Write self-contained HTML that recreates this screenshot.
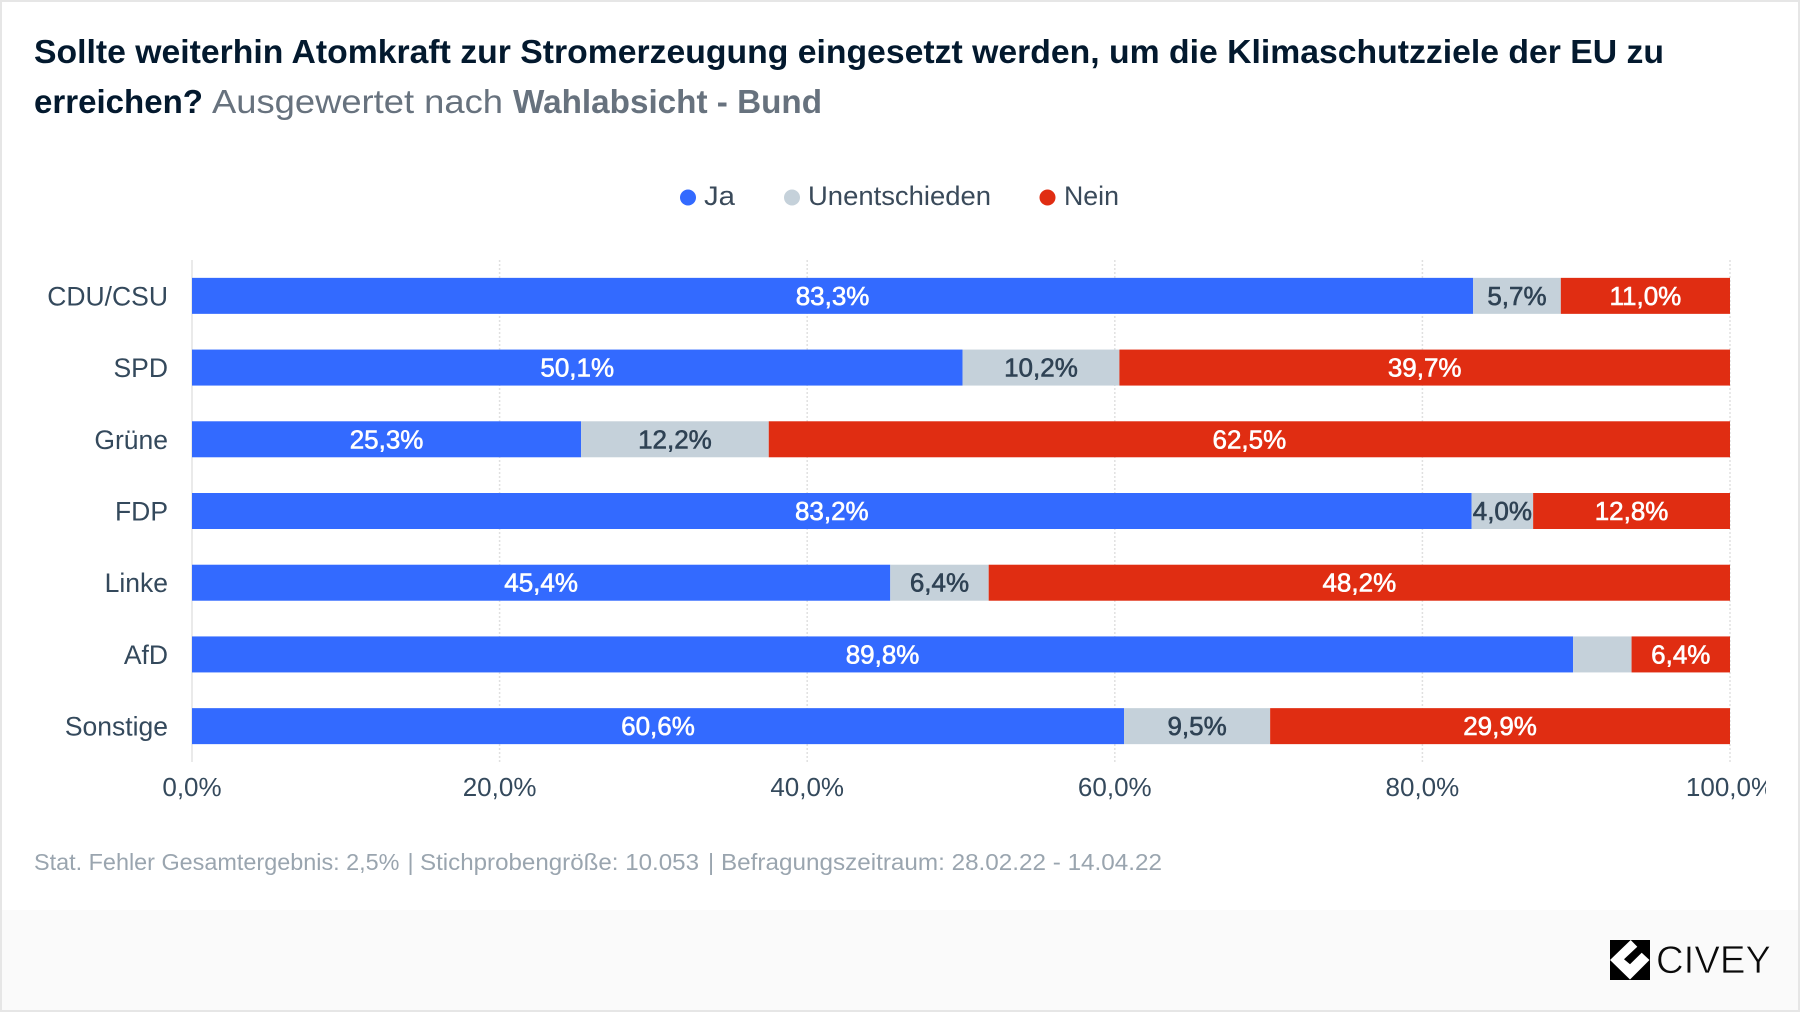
<!DOCTYPE html>
<html lang="de">
<head>
<meta charset="utf-8">
<title>Civey Umfrage Atomkraft</title>
<style>
html,body{margin:0;padding:0;background:#fff;}
body{width:1800px;height:1012px;overflow:hidden;}
svg{display:block;font-family:"Liberation Sans",sans-serif;}
</style>
</head>
<body>
<svg id="chart" xmlns="http://www.w3.org/2000/svg" width="1800" height="1012" viewBox="0 0 1800 1012">
  <defs>
    <clipPath id="chart-clip"><rect x="0" y="0" width="1766" height="1012"/></clipPath>
  </defs>
  <rect x="0" y="0" width="1800" height="1012" fill="#ffffff"/>
  <rect x="0" y="910" width="1800" height="102" fill="#fafafa"/>
  <rect x="0" y="0" width="1800" height="2" fill="#e6e6e6"/>
  <rect x="0" y="0" width="2" height="1012" fill="#e6e6e6"/>
  <rect x="1798" y="0" width="2" height="1012" fill="#e6e6e6"/>
  <rect x="0" y="1010" width="1800" height="2" fill="#e6e6e6"/>

  <text x="34" y="63" font-size="33" font-weight="700" fill="#03192e" textLength="1630" lengthAdjust="spacingAndGlyphs">Sollte weiterhin Atomkraft zur Stromerzeugung eingesetzt werden, um die Klimaschutzziele der EU zu</text>
  <text x="34" y="113" font-size="33" font-weight="700" fill="#03192e" textLength="169" lengthAdjust="spacingAndGlyphs">erreichen?</text>
  <text x="212" y="113" font-size="33" fill="#67727e" textLength="291" lengthAdjust="spacingAndGlyphs">Ausgewertet nach</text>
  <text x="513" y="113" font-size="33" font-weight="700" fill="#67727e" textLength="309" lengthAdjust="spacingAndGlyphs">Wahlabsicht - Bund</text>

  <g>
    <circle cx="688" cy="197.5" r="8" fill="#336aff"/>
    <text x="704" y="205" font-size="27" fill="#3a4a5a" textLength="31" lengthAdjust="spacingAndGlyphs">Ja</text>
    <circle cx="792" cy="197.5" r="8" fill="#c5d1da"/>
    <text x="808" y="205" font-size="27" fill="#3a4a5a" textLength="183" lengthAdjust="spacingAndGlyphs">Unentschieden</text>
    <circle cx="1047.5" cy="197.5" r="8" fill="#e02d12"/>
    <text x="1064" y="205" font-size="27" fill="#3a4a5a" textLength="55" lengthAdjust="spacingAndGlyphs">Nein</text>
  </g>

  <g id="plot" clip-path="url(#chart-clip)"></g>

  <g font-size="23.5" fill="#9aa5af">
    <text x="34" y="870" textLength="365.5" lengthAdjust="spacingAndGlyphs">Stat. Fehler Gesamtergebnis: 2,5%</text>
    <text x="407.5" y="870">|</text>
    <text x="420" y="870" textLength="279" lengthAdjust="spacingAndGlyphs">Stichprobengröße: 10.053</text>
    <text x="708" y="870">|</text>
    <text x="721" y="870" textLength="441" lengthAdjust="spacingAndGlyphs">Befragungszeitraum: 28.02.22 - 14.04.22</text>
  </g>

  <g>
    <rect x="1610" y="940" width="40" height="40" fill="#000000"/>
    <polygon points="1630.7,940 1610,960 1630,979.5 1649.5,960 1641.7,952.7 1630,964.3 1624,959.3 1637.3,946.7" fill="#ffffff"/>
    <text x="1656" y="973" font-size="39" fill="#0a0a0a" stroke="#fafafa" stroke-width="0.7" textLength="115" lengthAdjust="spacingAndGlyphs">CIVEY</text>
  </g>
</svg>
<script>
const categories = ["CDU/CSU", "SPD", "Grüne", "FDP", "Linke", "AfD", "Sonstige"];
const seriesJa = [83.3, 50.1, 25.3, 83.2, 45.4, 89.8, 60.6];
const seriesUnentschieden = [5.7, 10.2, 12.2, 4.0, 6.4, 3.8, 9.5];
const seriesNein = [11.0, 39.7, 62.5, 12.8, 48.2, 6.4, 29.9];
const xTicks = [0, 20, 40, 60, 80, 100];

const NS = "http://www.w3.org/2000/svg";
const plot = document.getElementById("plot");
const PLOT_LEFT = 192, PLOT_RIGHT = 1730, PLOT_TOP = 260, PLOT_BOTTOM = 762;
const BAR_HEIGHT = 36;
const xScale = v => PLOT_LEFT + (v / 100) * (PLOT_RIGHT - PLOT_LEFT);
const band = (PLOT_BOTTOM - PLOT_TOP) / categories.length;
const yCenter = i => PLOT_TOP + band * (i + 0.5);
const fmt = v => v.toFixed(1).replace(".", ",") + "%";
const slug = s => s.toLowerCase().replace(/[^a-z0-9]+/g, "-");

function make(tag, attrs, text) {
  const el = document.createElementNS(NS, tag);
  for (const k in attrs) el.setAttribute(k, attrs[k]);
  if (text !== undefined) el.textContent = text;
  plot.appendChild(el);
  return el;
}

xTicks.forEach(t => {
  const isZero = t === 0;
  const line = make("line", {
    x1: xScale(t), x2: xScale(t), y1: PLOT_TOP, y2: PLOT_BOTTOM,
    stroke: isZero ? "#e3e3e3" : "#e0e0e0", "stroke-width": 1.5,
    "stroke-dasharray": isZero ? "none" : "2 2"
  });
  
  
  const label = make("text", {
    x: xScale(t), y: 796, "text-anchor": "middle", "font-size": 26, fill: "#34495c"
  }, fmt(t));
  
  
});

const seriesList = [
  { key: "ja", values: seriesJa, fill: "#336aff", text: "#ffffff" },
  { key: "unentschieden", values: seriesUnentschieden, fill: "#c5d1da", text: "#2f4254" },
  { key: "nein", values: seriesNein, fill: "#e02d12", text: "#ffffff" }
];
const LABEL_MIN = 4;

categories.forEach((cat, i) => {
  const cy = yCenter(i);
  const catLabel = make("text", {
    x: 168, y: cy + 9.5, "text-anchor": "end", "font-size": 26.5, fill: "#34495c"
  }, cat);
  
  

  let acc = 0;
  seriesList.forEach(s => {
    const v = s.values[i];
    const x0 = xScale(acc), x1 = xScale(acc + v);
    const bar = make("rect", {
      x: x0, y: cy - BAR_HEIGHT / 2, width: x1 - x0, height: BAR_HEIGHT, fill: s.fill
    });
    
    
    if (v >= LABEL_MIN) {
      const val = make("text", {
        x: (x0 + x1) / 2, y: cy + 9, "text-anchor": "middle", "font-size": 26,
        fill: s.text, stroke: s.text, "stroke-width": 0.6
      }, fmt(v));
      
      
    }
    acc += v;
  });
});
</script>
</body>
</html>
